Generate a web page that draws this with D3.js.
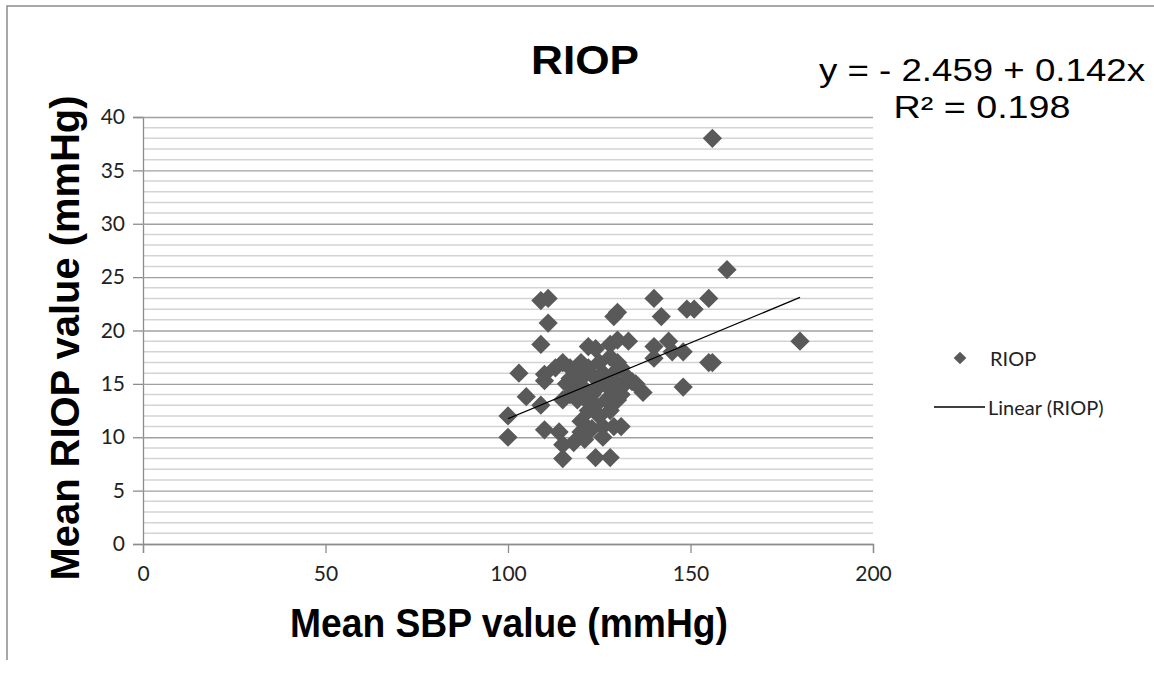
<!DOCTYPE html>
<html>
<head>
<meta charset="utf-8">
<script src="https://cdn.jsdelivr.net/npm/d3@7"></script>
<style>
  body { margin: 0; background: #fff; }
  svg { display: block; }
</style>
</head>
<body>
<svg id="chart" width="1154" height="673"></svg>
<script>
// mean SBP (x) and mean RIOP (y)
let sbp = [156, 160, 180, 109, 111, 111, 109, 103, 105, 100, 100,
  110, 110, 109, 110, 114, 115, 115, 124, 128,
  122, 128, 129, 130, 140, 142, 149, 151, 155,
  140, 140, 144, 145, 148, 148, 155, 156, 137, 133, 130,
  115, 117, 117, 118, 119, 120, 120, 120, 121, 122, 122, 123, 123, 124, 124,
  125, 125, 125, 126, 126, 127, 127, 128, 128, 129, 129, 130, 130, 130, 131,
  132, 133, 134, 131, 120, 118, 121, 126, 124, 119, 116, 122, 128, 131, 135,
  129, 117, 113, 115];
let riop = [38, 25.7, 19, 22.8, 23, 20.7, 18.7, 16, 13.8, 12, 10,
  15.9, 15.3, 13, 10.7, 10.5, 9.3, 8, 8.1, 8.1,
  18.5, 18.7, 21.3, 21.7, 23, 21.3, 22, 22, 23,
  18.5, 17.4, 19, 18, 18, 14.7, 17, 17, 14.2, 19, 19.1,
  17, 16.5, 14, 15, 13.5, 17, 15.5, 11.5, 14.5, 16.5, 12.5, 14, 10.8, 15.5, 13,
  17, 12, 14.8, 16, 11, 13.5, 15.5, 12.5, 14.5, 16, 11, 15, 13.5, 17, 16.5,
  15, 15.5, 15.2, 11, 10.5, 9.5, 9.8, 10, 18.3, 16.2, 15, 13.3, 17.5, 14, 15,
  15.2, 15.5, 16.5, 13.5];

let xTicks = [0, 50, 100, 150, 200];
let yTicks = [0, 5, 10, 15, 20, 25, 30, 35, 40];
let intercept = -2.459, slope = 0.142;
let trendX = [100, 180];

let points = sbp.map((s, i) => ({x: s, y: riop[i]}));

let svg = d3.select('#chart');

// chart border (top & left visible)
svg.append('path')
  .attr('d', 'M7,660V6H1154')
  .attr('fill', 'none')
  .attr('stroke', '#8c8c8c')
  .attr('stroke-width', 1.5);

let xScale = d3.scaleLinear().domain([0, 200]).range([143, 873]);
let yScale = d3.scaleLinear().domain([0, 40]).range([544, 117]);

// minor gridlines every 1 unit
let minor = d3.range(1, 40).filter(v => v % 5 !== 0);
svg.append('g').selectAll('line')
  .data(minor)
  .enter()
  .append('line')
  .attr('x1', 143).attr('x2', 873)
  .attr('y1', d => yScale(d)).attr('y2', d => yScale(d))
  .attr('stroke', '#d3d3d3')
  .attr('stroke-width', 1.5);

// major gridlines + y axis
let yAxis = d3.axisLeft(yScale).tickValues(yTicks).tickSize(10).tickPadding(8);
let yAxisG = svg.append('g').attr('id', 'yAxisG')
  .attr('transform', 'translate(143,0)')
  .call(yAxis);
yAxisG.select('.domain').attr('stroke', '#8c8c8c').attr('stroke-width', 1.3);
yAxisG.selectAll('.tick line').attr('stroke', '#8c8c8c').attr('stroke-width', 1.3);
yAxisG.selectAll('.tick text')
  .style('font-family', 'Lato, "Open Sans", sans-serif')
  .style('font-size', '21px')
  .attr('fill', '#222');
yAxisG.selectAll('.tick')
  .append('line')
  .attr('x1', 0).attr('x2', 730)
  .attr('stroke', '#a0a0a0')
  .attr('stroke-width', 1.3);

let xAxis = d3.axisBottom(xScale).tickValues(xTicks).tickSize(9).tickPadding(13);
let xAxisG = svg.append('g').attr('id', 'xAxisG')
  .attr('transform', 'translate(0,544)')
  .call(xAxis);
xAxisG.select('.domain').attr('stroke', '#8c8c8c').attr('stroke-width', 1.3);
xAxisG.selectAll('.tick line').attr('stroke', '#8c8c8c').attr('stroke-width', 1.3);
xAxisG.selectAll('.tick text')
  .style('font-family', 'Lato, "Open Sans", sans-serif')
  .style('font-size', '21px')
  .attr('fill', '#222');

// points
let diamond = d3.symbol().type(d3.symbolSquare).size(185);
svg.append('g').selectAll('path')
  .data(points)
  .enter()
  .append('path')
  .attr('d', diamond)
  .attr('transform', d => `translate(${xScale(d.x)},${yScale(d.y)}) rotate(45)`)
  .attr('fill', '#595959');

// linear trendline
svg.append('line')
  .attr('x1', xScale(trendX[0])).attr('y1', yScale(intercept + slope * trendX[0]))
  .attr('x2', xScale(trendX[1])).attr('y2', yScale(intercept + slope * trendX[1]))
  .attr('stroke', '#000')
  .attr('stroke-width', 1.3);

// title
svg.append('text')
  .attr('x', 585).attr('y', 74)
  .attr('text-anchor', 'middle')
  .attr('textLength', 108)
  .attr('lengthAdjust', 'spacingAndGlyphs')
  .style('font-family', '"Liberation Sans", Arial, sans-serif')
  .style('font-weight', 'bold')
  .style('font-size', '40px')
  .text('RIOP');

// equation
svg.append('text')
  .attr('x', 982).attr('y', 81)
  .attr('text-anchor', 'middle')
  .attr('textLength', 326)
  .attr('lengthAdjust', 'spacingAndGlyphs')
  .style('font-family', '"Liberation Sans", Arial, sans-serif')
  .style('font-size', '31px')
  .text('y = - 2.459 + 0.142x');
svg.append('text')
  .attr('x', 982).attr('y', 118)
  .attr('text-anchor', 'middle')
  .attr('textLength', 177)
  .attr('lengthAdjust', 'spacingAndGlyphs')
  .style('font-family', '"Liberation Sans", Arial, sans-serif')
  .style('font-size', '31px')
  .text('R² = 0.198');

// axis titles
svg.append('text')
  .attr('x', 509).attr('y', 637)
  .attr('text-anchor', 'middle')
  .attr('textLength', 438)
  .attr('lengthAdjust', 'spacingAndGlyphs')
  .style('font-family', '"Liberation Sans", Arial, sans-serif')
  .style('font-weight', 'bold')
  .style('font-size', '40px')
  .text('Mean SBP value (mmHg)');

svg.append('text')
  .attr('transform', 'translate(79,338) rotate(-90)')
  .attr('text-anchor', 'middle')
  .attr('textLength', 485)
  .attr('lengthAdjust', 'spacingAndGlyphs')
  .style('font-family', '"Liberation Sans", Arial, sans-serif')
  .style('font-weight', 'bold')
  .style('font-size', '40px')
  .text('Mean RIOP value (mmHg)');

// legend
let legend = svg.append('g');
legend.append('path')
  .attr('d', d3.symbol().type(d3.symbolSquare).size(80))
  .attr('transform', 'translate(960,358) rotate(45)')
  .attr('fill', '#595959');
legend.append('text')
  .attr('x', 990).attr('y', 366)
  .style('font-family', 'Lato, "Open Sans", sans-serif')
  .style('font-size', '20px')
  .attr('fill', '#222')
  .text('RIOP');
legend.append('line')
  .attr('x1', 934).attr('x2', 985)
  .attr('y1', 407).attr('y2', 407)
  .attr('stroke', '#000')
  .attr('stroke-width', 1.3);
legend.append('text')
  .attr('x', 988).attr('y', 415)
  .style('font-family', 'Lato, "Open Sans", sans-serif')
  .style('font-size', '20px')
  .attr('fill', '#222')
  .text('Linear (RIOP)');
</script>
</body>
</html>
